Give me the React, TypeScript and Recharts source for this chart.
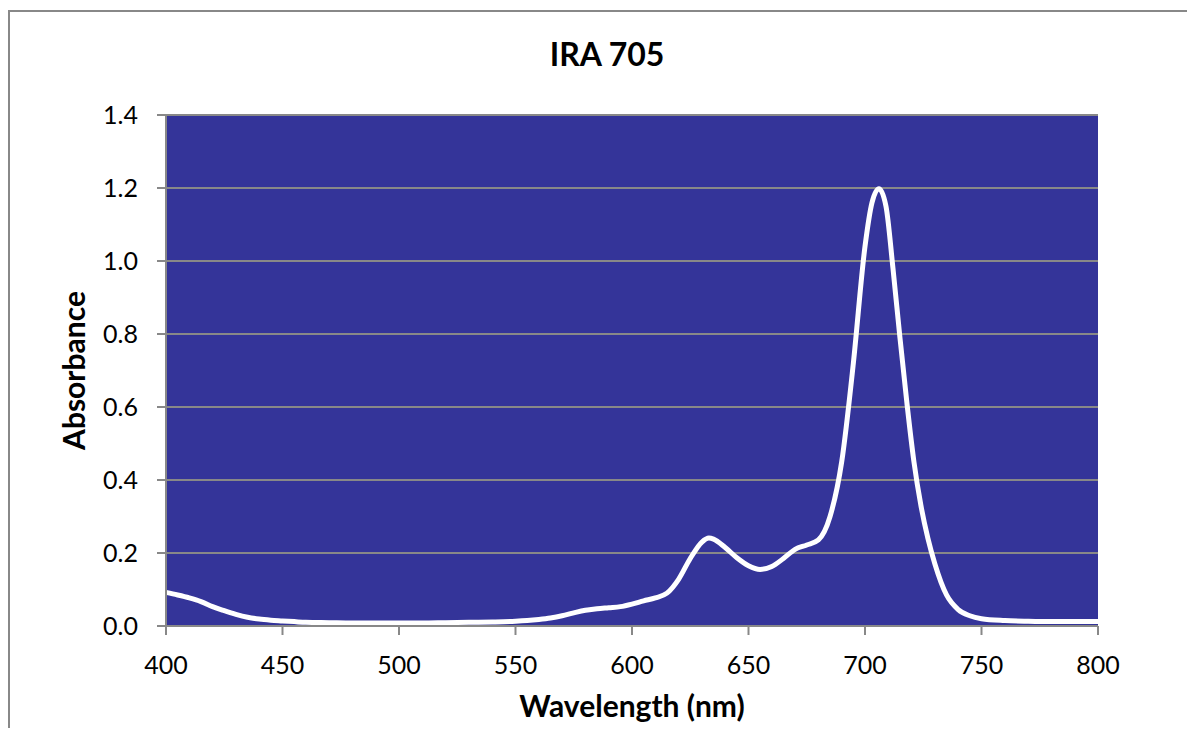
import React from 'react';
import { LineChart, Line, XAxis, YAxis, CartesianGrid, Label } from 'recharts';

// wavelength (nm) and absorbance
const wavelengths = [
  400, 405, 410, 415, 420, 425, 430, 435, 440, 445, 450, 455, 460, 470, 480, 490, 500,
  510, 520, 530, 540, 550, 555, 560, 565, 570, 575, 580, 585, 590, 595, 600, 605, 610,
  615, 620, 625, 630, 633, 635, 640, 645, 650, 655, 660, 665, 670, 675, 680, 685, 690,
  695, 700, 703, 706, 709, 712, 715, 718, 721, 724, 727, 730, 735, 740, 745, 750, 760,
  770, 780, 790, 800,
];
const absorbance = [
  0.092, 0.085, 0.077, 0.067, 0.053, 0.042, 0.032, 0.024, 0.019, 0.016, 0.014, 0.012, 0.01,
  0.009, 0.008, 0.008, 0.008, 0.008, 0.009, 0.01, 0.011, 0.013, 0.015, 0.018, 0.022, 0.028,
  0.036, 0.043, 0.047, 0.05, 0.053, 0.06, 0.069, 0.077, 0.09, 0.128, 0.185, 0.23, 0.241,
  0.238, 0.215, 0.187, 0.165, 0.155, 0.163, 0.185, 0.21, 0.222, 0.236, 0.3, 0.45, 0.72,
  1.04, 1.16, 1.198, 1.15, 0.98, 0.79, 0.61, 0.45, 0.33, 0.24, 0.17, 0.085, 0.045, 0.028,
  0.02, 0.015, 0.013, 0.012, 0.012, 0.012,
];

const xTicks = [400, 450, 500, 550, 600, 650, 700, 750, 800];
const yTicks = [0, 0.2, 0.4, 0.6, 0.8, 1.0, 1.2, 1.4];

const title = 'IRA 705';
const xTitle = 'Wavelength (nm)';
const yTitle = 'Absorbance';

const data = wavelengths.map((w, i) => ({ wl: w, abs: absorbance[i] }));

const FONT = 'Lato, "DejaVu Sans", sans-serif';
const GREY = '#888888';

function YTitle({ viewBox }: any) {
  const x = 77;
  const y = viewBox.y + viewBox.height / 2;
  return (
    <text
      x={x}
      y={y}
      transform={`rotate(-90 ${x} ${y})`}
      textAnchor="middle"
      fontFamily={FONT}
      fontWeight={700}
      fontSize={30}
      fill="#000"
    >
      {yTitle}
    </text>
  );
}

export default function App() {
  const tick = { fill: '#000', fontSize: 25, fontFamily: FONT };
  return (
    <div style={{ position: 'relative', width: 1185, height: 720, fontFamily: FONT }}>
      <div
        style={{
          position: 'absolute',
          top: 2,
          left: 0,
          right: 0,
          bottom: 0,
          borderTop: `2px solid ${GREY}`,
          borderLeft: `2px solid ${GREY}`,
        }}
      />
      <div
        style={{
          position: 'absolute',
          top: 30,
          left: 299,
          width: 600,
          textAlign: 'center',
          fontSize: 32,
          lineHeight: '32px',
          fontWeight: 700,
          color: '#000',
        }}
      >
        {title}
      </div>
      <LineChart
        width={1185}
        height={720}
        data={data}
        margin={{ top: 107, right: 95, bottom: 0, left: 0 }}
        style={{ position: 'absolute', top: 0, left: 0 }}
      >
        <CartesianGrid
          vertical={false}
          fill="#343499"
          stroke={GREY}
          strokeWidth={2}
          fillOpacity={1}
        />
        <XAxis
          dataKey="wl"
          type="number"
          domain={[400, 800]}
          ticks={xTicks}
          height={102}
          tick={tick}
          tickSize={9}
          tickMargin={21}
          stroke={GREY}
          strokeWidth={2}
          tickLine={{ stroke: GREY, strokeWidth: 2 }}
        >
          <Label
            value={xTitle}
            position="insideBottom"
            offset={11}
            fontFamily={FONT}
            fontWeight={700}
            fontSize={30}
            fill="#000"
          />
        </XAxis>
        <YAxis
          type="number"
          domain={[0, 1.4]}
          ticks={yTicks}
          width={158}
          tick={tick}
          tickSize={9}
          tickMargin={19}
          tickFormatter={(v: number) => v.toFixed(1)}
          stroke={GREY}
          strokeWidth={2}
          tickLine={{ stroke: GREY, strokeWidth: 2 }}
        >
          <Label content={<YTitle />} />
        </YAxis>
        <Line
          type="monotone"
          dataKey="abs"
          stroke="#ffffff"
          strokeWidth={5}
          dot={false}
          activeDot={false}
          isAnimationActive={false}
        />
      </LineChart>
    </div>
  );
}
